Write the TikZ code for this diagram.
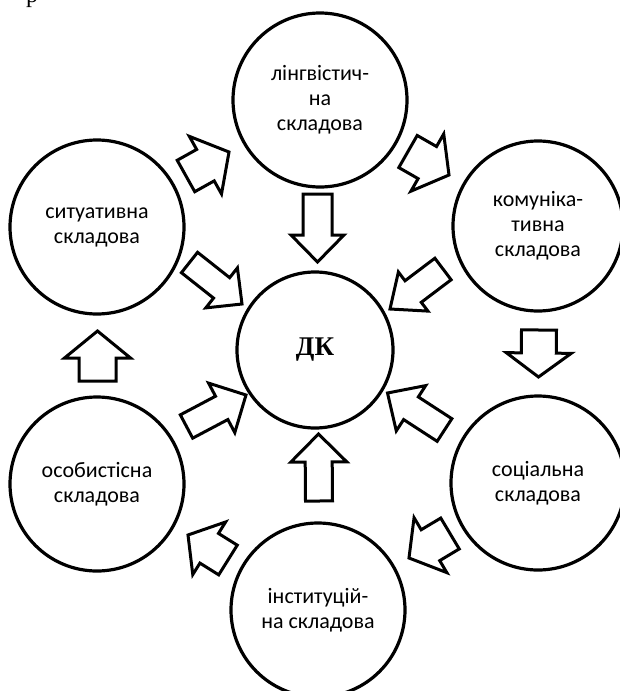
\documentclass[tikz,border=0pt]{standalone}
\usepackage{fontspec}
\setmainfont{Carlito}
\newfontfamily\dkfont{Liberation Serif}
\usetikzlibrary{calc}
% outlined block arrow: tail, tip, half shaft width, half head width, head length
\newcommand\outlinearrow[5]{%
  \path ($(#2)!#5!(#1)$) coordinate (hb);
  \draw[arrowline] ($(#1)!#3!90:(#2)$) -- ($(hb)!#3!90:(#2)$) -- ($(hb)!#4!90:(#2)$)
    -- (#2) -- ($(hb)!#4!-90:(#2)$) -- ($(hb)!#3!-90:(#2)$) -- ($(#1)!#3!-90:(#2)$) -- cycle;
}
\begin{document}
\begin{tikzpicture}[x=1pt,y=-1pt,
  part/.style={circle,draw,line width=3.2pt,minimum size=174pt,inner sep=0pt,
    align=center,font=\fontsize{22}{25}\selectfont},
  arrowline/.style={draw,line width=3pt,line join=miter,miter limit=10}]
\useasboundingbox (0,0) rectangle (620,691);

% cut-off letter of the preceding line
\node[font=\dkfont\fontsize{24}{24}\selectfont,anchor=base,inner sep=0pt] (frag) at (32,2.5) {р};

% components
\node[part] (ling) at (320,100) {лінгвістич-\\на\\складова};
\node[part,minimum size=170pt] (komun) at (538,226) {комуніка-\\тивна\\складова};
\node[part] (sit) at (97,227) {ситуативна\\складова};
\node[part,minimum size=156pt,font=\dkfont\bfseries\fontsize{27}{30}\selectfont] (dk) at (315,350) {ДК};
\node[part] (soc) at (538,483) {соціальна\\складова};
\node[part] (pers) at (97,484) {особистісна\\складова};
\node[part] (inst) at (318,610) {інституцій-\\на складова};

% arrow ends
\coordinate (a1) at (186,176);   \coordinate (b1) at (229,152);
\coordinate (a2) at (408,151.5); \coordinate (b2) at (449,175);
\coordinate (a3) at (317.5,194); \coordinate (b3) at (317.5,262);
\coordinate (a4) at (189.5,262.5); \coordinate (b4) at (242,304);
\coordinate (a5) at (443,269);   \coordinate (b5) at (390,309);
\coordinate (a6) at (539,330);   \coordinate (b6) at (538.5,377);
\coordinate (a7) at (97.5,381);  \coordinate (b7) at (97.5,331);
\coordinate (a8) at (186.5,426.5); \coordinate (b8) at (246,395);
\coordinate (a9) at (444.5,430); \coordinate (b9) at (387.5,393);
\coordinate (a10) at (319,501);  \coordinate (b10) at (318.5,434);
\coordinate (a11) at (228,560);  \coordinate (b11) at (188,535);
\coordinate (a12) at (450,533.5); \coordinate (b12) at (409,558);

% ring of arrows
\outlinearrow{a1}{b1}{18pt}{33pt}{27pt}
\outlinearrow{a2}{b2}{18.5pt}{33pt}{25pt}
\outlinearrow{a6}{b6}{17.5pt}{32.5pt}{24pt}
\outlinearrow{a12}{b12}{18pt}{32pt}{25pt}
\outlinearrow{a11}{b11}{17.5pt}{31pt}{25pt}
\outlinearrow{a7}{b7}{18.5pt}{33pt}{27pt}
% arrows into the centre
\outlinearrow{a3}{b3}{14.5pt}{26.5pt}{27pt}
\outlinearrow{a4}{b4}{13pt}{25.5pt}{26pt}
\outlinearrow{a5}{b5}{13.5pt}{24.5pt}{29pt}
\outlinearrow{a8}{b8}{13.2pt}{28pt}{27.5pt}
\outlinearrow{a9}{b9}{13.5pt}{27pt}{28pt}
\outlinearrow{a10}{b10}{13.5pt}{28pt}{28pt}
\end{tikzpicture}
\end{document}
